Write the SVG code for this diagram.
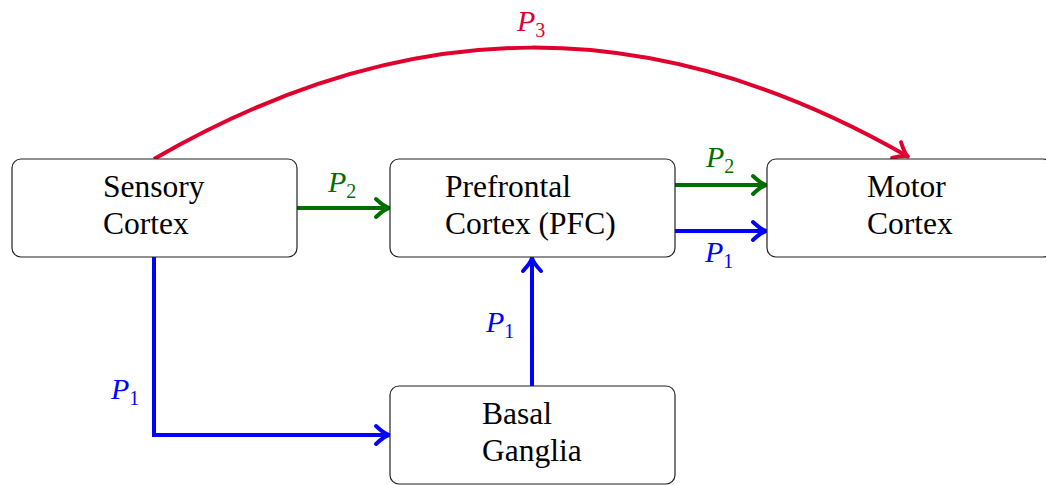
<svg xmlns="http://www.w3.org/2000/svg" width="1046" height="485" viewBox="0 0 1046 485">
<style>
.box{fill:#fff;stroke:#222;stroke-width:1.2}
.t{font-size:31.5px;fill:#000}
.lbl{font-size:30px;font-style:italic}
.sub{font-size:20px;font-style:normal}
.c{fill:none;stroke-width:4}
</style>
<defs>
<marker id="ab" markerUnits="userSpaceOnUse" markerWidth="30" markerHeight="30" viewBox="-15 -15 30 30" refX="0" refY="0" orient="auto">
<path d="M-12,-9 Q-4,-1.5 1,0 Q-4,1.5 -12,9" fill="none" stroke="#0000ff" stroke-width="4" stroke-linecap="round" stroke-linejoin="round"/>
</marker>
<marker id="ag" markerUnits="userSpaceOnUse" markerWidth="30" markerHeight="30" viewBox="-15 -15 30 30" refX="0" refY="0" orient="auto">
<path d="M-12,-9 Q-4,-1.5 1,0 Q-4,1.5 -12,9" fill="none" stroke="#006e00" stroke-width="4" stroke-linecap="round" stroke-linejoin="round"/>
</marker>
<marker id="ar" markerUnits="userSpaceOnUse" markerWidth="30" markerHeight="30" viewBox="-15 -15 30 30" refX="0" refY="0" orient="auto">
<path d="M-12,-9 Q-4,-1.5 1,0 Q-4,1.5 -12,9" fill="none" stroke="#e0002d" stroke-width="4" stroke-linecap="round" stroke-linejoin="round"/>
</marker>
</defs>
<g font-family="Liberation Serif, Times New Roman, Times, DejaVu Serif, serif">
<g id="connectors">
<path class="c" stroke="#e0002d" d="M154,159 C410,11 654,11 907,156" marker-end="url(#ar)"/>
<path class="c" stroke="#006e00" d="M297,208 H388" marker-end="url(#ag)"/>
<path class="c" stroke="#006e00" d="M675,185 H765" marker-end="url(#ag)"/>
<path class="c" stroke="#0000ff" d="M675,231 H765" marker-end="url(#ab)"/>
<path class="c" stroke="#0000ff" d="M154,257 V435 H388" marker-end="url(#ab)"/>
<path class="c" stroke="#0000ff" d="M532,386 V259" marker-end="url(#ab)"/>
<text class="lbl" x="517" y="31" fill="#e0002d">P<tspan class="sub" dy="6">3</tspan></text>
<text class="lbl" x="328" y="192" fill="#006e00">P<tspan class="sub" dy="6">2</tspan></text>
<text class="lbl" x="706" y="167" fill="#006e00">P<tspan class="sub" dy="6">2</tspan></text>
<text class="lbl" x="705" y="262" fill="#0000ff">P<tspan class="sub" dy="6">1</tspan></text>
<text class="lbl" x="111" y="399" fill="#0000ff">P<tspan class="sub" dy="6">1</tspan></text>
<text class="lbl" x="486" y="332" fill="#0000ff">P<tspan class="sub" dy="6">1</tspan></text>
</g>
<g id="sensory">
<rect class="box" x="12" y="159" width="285" height="98" rx="9"/>
<text class="t" x="103" y="197">Sensory</text>
<text class="t" x="103" y="234">Cortex</text>
</g>
<g id="pfc">
<rect class="box" x="390" y="159" width="285" height="98" rx="9"/>
<text class="t" x="445" y="197">Prefrontal</text>
<text class="t" x="445" y="234">Cortex (PFC)</text>
</g>
<g id="motor">
<rect class="box" x="767" y="159" width="285" height="98" rx="9"/>
<text class="t" x="867" y="197">Motor</text>
<text class="t" x="867" y="234">Cortex</text>
</g>
<g id="basal">
<rect class="box" x="390" y="386" width="285" height="98" rx="9"/>
<text class="t" x="482" y="424">Basal</text>
<text class="t" x="482" y="461">Ganglia</text>
</g>
</g>
</svg>
